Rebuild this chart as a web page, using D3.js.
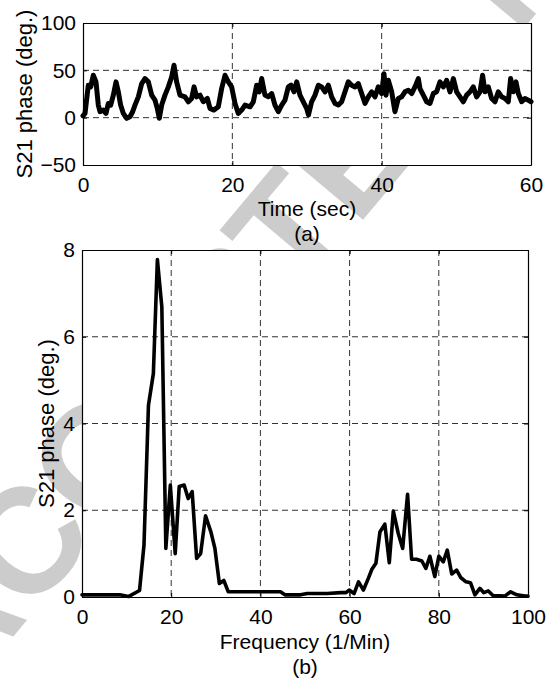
<!DOCTYPE html>
<html><head><meta charset="utf-8">
<script src="https://cdn.jsdelivr.net/npm/d3@7"></script>
<style>body{margin:0;background:#fff}svg{display:block}text{font-family:"Liberation Sans",Arial,Helvetica,sans-serif}</style>
</head><body><svg id="c" width="549" height="682"></svg>
<script>
// ---- data: panel (a) ----
const timeSec = [0,0.27,0.71,1.03,1.38,1.74,2.05,2.28,2.72,3.08,3.39,3.71,4.06,4.42,4.73,5.04,5.4,5.85,6.29,6.65,6.96,7.41,7.86,8.3,8.75,9.2,9.64,9.95,10.22,10.54,10.98,11.43,11.87,12.19,12.54,12.99,13.66,14.11,14.55,14.87,15.22,15.67,16.11,16.65,17.01,17.54,18.12,18.57,19.02,19.46,19.91,20.36,20.8,21.25,21.7,22.37,22.81,23.26,23.61,23.93,24.37,24.82,25.27,25.71,26.16,26.61,27.05,27.5,27.86,28.26,28.62,29.06,29.51,29.95,30.2,30.62,31.07,31.52,31.96,32.41,32.86,33.3,33.75,34.2,34.64,35.09,35.53,35.98,36.43,36.87,37.32,37.77,38.21,38.66,39.11,39.55,40,40.31,40.58,40.89,41.34,41.78,42.23,42.68,43.12,43.57,44.02,44.46,44.91,45.13,45.58,46.03,46.47,46.92,47.36,47.81,48.26,48.7,49.15,49.6,50.04,50.49,50.94,51.38,51.83,52.27,52.72,53.17,53.52,53.84,54.28,54.73,55.18,55.62,56.07,56.52,56.96,57.27,57.63,57.99,58.3,58.75,59.19,59.64,60];
const phaseDeg = [2,4.5,34.3,32.5,44.8,37.8,13.3,6.3,8,4.5,15,13.3,23.8,37.8,27.3,13.3,4.5,-0.7,1,6.3,13.3,22,36,41.3,37.8,23.8,18.5,9.8,-0.7,13.3,23.8,32.5,43,55.3,37.8,23.8,22,16.8,20.3,32.5,22,23.8,16.8,20.3,9.8,8,11.5,30.8,44.8,37.8,32.5,15,4.5,8,13.3,11.5,16.8,34.3,27.3,41.3,23.8,22,25.5,13.3,6.3,13.3,18.5,32.5,34.3,27.3,37.8,23.8,16.8,9.8,3,16.8,23.8,34.3,32.5,27.3,34.3,22,15,13.3,16.8,27.3,37.8,34.3,32.5,36,25.5,15,22,27.3,22,32.5,25.5,46.5,23.8,39.5,27.3,6.3,20.3,22,27.3,29,25.5,32.5,41.3,30.8,23.8,16.8,15,25.5,27.3,37.8,32.5,39.5,27.3,41.3,27.3,22,16.8,23.8,27.3,32.5,22,27.3,44.8,27.3,32.5,20.3,16.8,27.3,22,20.3,16.8,41.3,27.3,37.8,25.5,16.8,20.3,18.5,16.8];
const timeTicks = [0,20,40,60];
const phaseTicks = [-50,0,50,100];

// ---- data: panel (b) ----
const freqPerMin = [0,8.5,10.4,12.9,13.9,14.9,16,16.9,17.9,18.8,19.8,20.9,21.8,22.9,23.8,24.7,25.7,26.6,27.7,28.9,29.8,30.8,31.8,32.8,36,40,44.5,45.5,49,50.5,55,58,59.2,59.9,61,62,63.1,64.2,65,65.9,66.8,67.9,68.9,69.8,70.9,71.9,73,73.9,75,76.2,77.1,78,79.1,80,81,81.9,82.9,84,84.9,86.1,87.1,88.1,89.2,90.1,91.1,92.2,93.6,94.8,96.1,97.5,99.3,100];
const spectrumDeg = [0.05,0.05,0.01,0.15,1.2,4.42,5.15,7.78,6.69,1.12,2.58,1.0,2.55,2.58,2.27,2.43,0.89,1.0,1.87,1.5,1.12,0.31,0.38,0.12,0.12,0.12,0.12,0.05,0.05,0.08,0.08,0.1,0.1,0.16,0.08,0.35,0.16,0.43,0.64,0.78,1.5,1.68,0.79,1.98,1.47,1.12,2.37,0.87,0.87,0.83,0.66,0.94,0.47,0.94,0.81,1.08,0.53,0.62,0.45,0.35,0.33,0.05,0.2,0.1,0.14,0.03,0.03,0.02,0.12,0.05,0.02,0.02];
const freqTicks = [0,20,40,60,80,100];
const specTicks = [0,2,4,6,8];

const yLabel = "S21 phase (deg.)";
const watermark = "ACCEPTED MANUSCRIPT";

const svg = d3.select("#c");
svg.append("rect").attr("width",549).attr("height",682).attr("fill","#fff");

// watermark behind the axes
svg.append("text").text(watermark)
  .attr("transform","translate(-40,700) rotate(-50)")
  .attr("font-size",150).attr("font-weight","bold").attr("fill","#cccccc");

function panel(o){
  const x = d3.scaleLinear().domain([o.xTicks[0], o.xTicks[o.xTicks.length-1]]).range([o.left,o.right]);
  const y = d3.scaleLinear().domain([o.yTicks[0], o.yTicks[o.yTicks.length-1]]).range([o.bottom,o.top]);
  const g = svg.append("g");
  g.append("rect").attr("x",o.left).attr("y",o.top).attr("width",o.right-o.left).attr("height",o.bottom-o.top).attr("fill","#fff");
  // grid
  g.selectAll(".gx").data(o.xTicks.slice(1,-1)).join("line")
    .attr("x1",d=>x(d)).attr("x2",d=>x(d)).attr("y1",o.top).attr("y2",o.bottom)
    .attr("stroke","#333").attr("stroke-width",1).attr("stroke-dasharray","6,4");
  g.selectAll(".gy").data(o.yTicks.slice(1,-1)).join("line")
    .attr("y1",d=>y(d)).attr("y2",d=>y(d)).attr("x1",o.left).attr("x2",o.right)
    .attr("stroke","#333").attr("stroke-width",1).attr("stroke-dasharray","6,4");
  // series
  const line = d3.line().x((d,i)=>x(o.xs[i])).y(d=>y(d));
  g.append("path").datum(o.ys).attr("d",line).attr("fill","none")
    .attr("stroke","#000").attr("stroke-width",o.lw).attr("stroke-linejoin","round").attr("stroke-linecap","round");
  // axes
  const ax = (gen, tr, labels) => {
    const a = g.append("g").attr("transform",tr).call(gen);
    a.select(".domain").attr("stroke","#000").attr("stroke-width",1.2);
    a.selectAll(".tick line").attr("stroke","#000");
    a.selectAll("text").attr("font-size",21).attr("fill","#000").attr("font-family",'"Liberation Sans",Arial,sans-serif');
    if(!labels) a.selectAll("text").remove();
    return a;
  };
  ax(d3.axisBottom(x).tickValues(o.xTicks).tickSizeInner(-4).tickSizeOuter(0).tickPadding(12).tickFormat(d3.format("d")), `translate(0,${o.bottom})`, true);
  ax(d3.axisTop(x).tickValues(o.xTicks).tickSizeInner(-4).tickSizeOuter(0), `translate(0,${o.top})`, false);
  ax(d3.axisLeft(y).tickValues(o.yTicks).tickSizeInner(-4).tickSizeOuter(0).tickPadding(o.ypad).tickFormat(d3.format("d")), `translate(${o.left},0)`, true);
  ax(d3.axisRight(y).tickValues(o.yTicks).tickSizeInner(-4).tickSizeOuter(0), `translate(${o.right},0)`, false);
  // labels
  const cx = (o.left+o.right)/2;
  g.append("text").attr("x",cx).attr("y",o.xlabBase).attr("text-anchor","middle").attr("font-size",21).text(o.xlabel);
  g.append("text").attr("x",cx).attr("y",o.subBase).attr("text-anchor","middle").attr("font-size",21).text(o.sub);
  g.append("text").attr("transform",`translate(${o.ylabX},${(o.top+o.bottom)/2}) rotate(-90)`)
    .attr("text-anchor","middle").attr("font-size",22).text(yLabel);
}

panel({left:83,right:531,top:23,bottom:165,xTicks:timeTicks,yTicks:phaseTicks,xs:timeSec,ys:phaseDeg,lw:5,
  ypad:7,xlabel:"Time (sec)",sub:"(a)",xlabBase:216,subBase:241,ylabX:32});
panel({left:82,right:528,top:250,bottom:597,xTicks:freqTicks,yTicks:specTicks,xs:freqPerMin,ys:spectrumDeg,lw:3.6,
  ypad:7,xlabel:"Frequency (1/Min)",sub:"(b)",xlabBase:649,subBase:674,ylabX:54});
</script></body></html>
